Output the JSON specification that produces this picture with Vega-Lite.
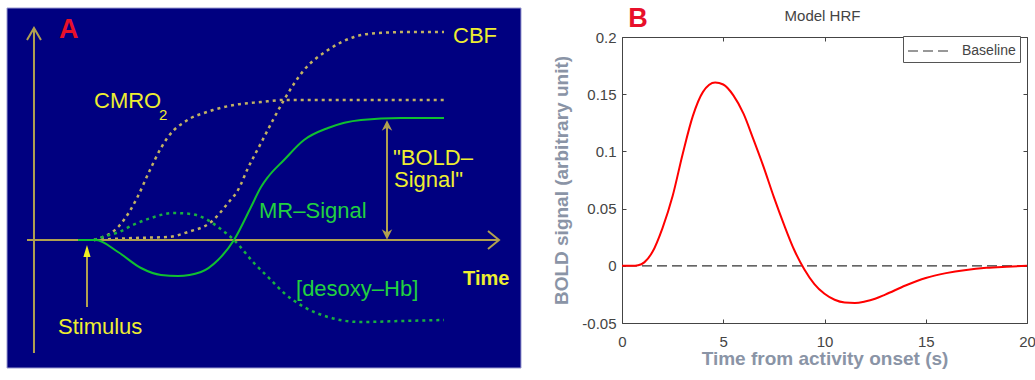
{
  "$schema": "https://vega.github.io/schema/vega-lite/v6.json",
  "padding": {"left": 6, "top": 4, "right": 0, "bottom": 0},
  "background": "white",
  "spacing": 30,
  "config": {
    "font": "Liberation Sans",
    "view": {"stroke": null},
    "axis": {"labelFont": "Liberation Sans", "titleFont": "Liberation Sans"},
    "legend": {"labelFont": "Liberation Sans"}
  },
  "datasets": {
    "panelA": [{"t": 0, "t2": 10, "v": -3.2, "v2": 5.8}],
    "axesA": [
      {"seg": "yaxis", "k": 1, "t": 0.525, "v": -2.825},
      {"seg": "yaxis", "k": 2, "t": 0.525, "v": 5.3},
      {"seg": "ychev", "k": 1, "t": 0.389, "v": 5.0},
      {"seg": "ychev", "k": 2, "t": 0.525, "v": 5.3},
      {"seg": "ychev", "k": 3, "t": 0.661, "v": 5.0},
      {"seg": "xaxis", "k": 1, "t": 0.389, "v": 0},
      {"seg": "xaxis", "k": 2, "t": 9.572, "v": 0},
      {"seg": "xchev", "k": 1, "t": 9.358, "v": 0.225},
      {"seg": "xchev", "k": 2, "t": 9.572, "v": 0},
      {"seg": "xchev", "k": 3, "t": 9.358, "v": -0.225},
      {"seg": "stim", "k": 1, "t": 1.556, "v": -1.675},
      {"seg": "stim", "k": 2, "t": 1.556, "v": -0.35},
      {"seg": "bold", "k": 1, "t": 7.393, "v": 0.1},
      {"seg": "bold", "k": 2, "t": 7.393, "v": 2.95}
    ],
    "headsA": [
      {"h": "stim", "t": 1.556, "v": -0.275},
      {"h": "boldup", "t": 7.393, "v": 2.8625},
      {"h": "bolddown", "t": 7.393, "v": 0.1375}
    ],
    "curvesA": [
      {"s": "CBF", "t": 1.693, "v": 0},
      {"s": "CBF", "t": 2.471, "v": 0.05},
      {"s": "CBF", "t": 3.132, "v": 0.075},
      {"s": "CBF", "t": 3.521, "v": 0.2},
      {"s": "CBF", "t": 3.969, "v": 0.45},
      {"s": "CBF", "t": 4.3, "v": 0.925},
      {"s": "CBF", "t": 4.494, "v": 1.25},
      {"s": "CBF", "t": 4.689, "v": 1.8},
      {"s": "CBF", "t": 4.942, "v": 2.425},
      {"s": "CBF", "t": 5.175, "v": 3.0},
      {"s": "CBF", "t": 5.389, "v": 3.5},
      {"s": "CBF", "t": 5.778, "v": 4.25},
      {"s": "CBF", "t": 6.245, "v": 4.75},
      {"s": "CBF", "t": 6.751, "v": 5.075},
      {"s": "CBF", "t": 7.218, "v": 5.175},
      {"s": "CBF", "t": 7.86, "v": 5.2},
      {"s": "CBF", "t": 8.502, "v": 5.2},
      {"s": "CMRO2", "t": 1.693, "v": 0},
      {"s": "CMRO2", "t": 1.868, "v": 0.075},
      {"s": "CMRO2", "t": 2.023, "v": 0.175},
      {"s": "CMRO2", "t": 2.179, "v": 0.35},
      {"s": "CMRO2", "t": 2.354, "v": 0.65},
      {"s": "CMRO2", "t": 2.549, "v": 1.1},
      {"s": "CMRO2", "t": 2.763, "v": 1.7},
      {"s": "CMRO2", "t": 2.996, "v": 2.3},
      {"s": "CMRO2", "t": 3.132, "v": 2.575},
      {"s": "CMRO2", "t": 3.249, "v": 2.75},
      {"s": "CMRO2", "t": 3.424, "v": 2.925},
      {"s": "CMRO2", "t": 3.58, "v": 3.05},
      {"s": "CMRO2", "t": 3.833, "v": 3.175},
      {"s": "CMRO2", "t": 4.008, "v": 3.25},
      {"s": "CMRO2", "t": 4.416, "v": 3.375},
      {"s": "CMRO2", "t": 4.942, "v": 3.45},
      {"s": "CMRO2", "t": 5.389, "v": 3.5},
      {"s": "CMRO2", "t": 8.502, "v": 3.5},
      {"s": "desoxy", "t": 1.693, "v": 0},
      {"s": "desoxy", "t": 1.926, "v": 0.1},
      {"s": "desoxy", "t": 2.179, "v": 0.2},
      {"s": "desoxy", "t": 2.451, "v": 0.375},
      {"s": "desoxy", "t": 2.802, "v": 0.55},
      {"s": "desoxy", "t": 3.249, "v": 0.675},
      {"s": "desoxy", "t": 3.58, "v": 0.65},
      {"s": "desoxy", "t": 3.872, "v": 0.525},
      {"s": "desoxy", "t": 4.105, "v": 0.325},
      {"s": "desoxy", "t": 4.416, "v": 0},
      {"s": "desoxy", "t": 4.805, "v": -0.575},
      {"s": "desoxy", "t": 5.136, "v": -1.0},
      {"s": "desoxy", "t": 5.389, "v": -1.325},
      {"s": "desoxy", "t": 5.778, "v": -1.675},
      {"s": "desoxy", "t": 6.245, "v": -1.925},
      {"s": "desoxy", "t": 6.887, "v": -2.05},
      {"s": "desoxy", "t": 7.665, "v": -2.025},
      {"s": "desoxy", "t": 8.502, "v": -2.0},
      {"s": "MR", "t": 1.381, "v": 0},
      {"s": "MR", "t": 1.732, "v": 0},
      {"s": "MR", "t": 2.16, "v": -0.3},
      {"s": "MR", "t": 2.607, "v": -0.7},
      {"s": "MR", "t": 2.996, "v": -0.875},
      {"s": "MR", "t": 3.327, "v": -0.9},
      {"s": "MR", "t": 3.774, "v": -0.8},
      {"s": "MR", "t": 4.105, "v": -0.5},
      {"s": "MR", "t": 4.416, "v": 0},
      {"s": "MR", "t": 4.747, "v": 0.825},
      {"s": "MR", "t": 4.942, "v": 1.325},
      {"s": "MR", "t": 5.078, "v": 1.575},
      {"s": "MR", "t": 5.389, "v": 2.0},
      {"s": "MR", "t": 5.778, "v": 2.5},
      {"s": "MR", "t": 6.245, "v": 2.8},
      {"s": "MR", "t": 6.887, "v": 3.0},
      {"s": "MR", "t": 7.665, "v": 3.05},
      {"s": "MR", "t": 8.502, "v": 3.05}
    ],
    "textA": [
      {"g": "red", "txt": "A", "t": 1.012, "v": 5.05},
      {"g": "yellow", "txt": "CBF", "t": 8.677, "v": 4.9375},
      {"g": "yellow", "txt": "CMRO", "t": 1.693, "v": 3.29},
      {"g": "sub", "txt": "2", "t": 2.957, "v": 3.0},
      {"g": "yellow", "txt": "\"BOLD–", "t": 7.51, "v": 1.875},
      {"g": "yellow", "txt": "Signal\"", "t": 7.529, "v": 1.325},
      {"g": "yellow", "txt": "Stimulus", "t": 0.992, "v": -2.35},
      {"g": "time", "txt": "Time", "t": 8.872, "v": -1.125},
      {"g": "green", "txt": "MR–Signal", "t": 4.903, "v": 0.5425},
      {"g": "green", "txt": "[desoxy–Hb]", "t": 5.623, "v": -1.4}
    ],
    "hrf": [
      {"t": 0, "v": 0},
      {"t": 0.5, "v": 0},
      {"t": 0.8, "v": 0.0005},
      {"t": 1.1, "v": 0.003},
      {"t": 1.5, "v": 0.012},
      {"t": 2.0, "v": 0.033},
      {"t": 2.5, "v": 0.061},
      {"t": 3.0, "v": 0.098},
      {"t": 3.5, "v": 0.131},
      {"t": 4.0, "v": 0.152},
      {"t": 4.6, "v": 0.1602},
      {"t": 5.0, "v": 0.1585},
      {"t": 5.5, "v": 0.149},
      {"t": 6.0, "v": 0.133},
      {"t": 6.5, "v": 0.11},
      {"t": 7.0, "v": 0.086},
      {"t": 7.5, "v": 0.06},
      {"t": 8.0, "v": 0.036},
      {"t": 8.5, "v": 0.014},
      {"t": 9.0, "v": -0.003},
      {"t": 9.5, "v": -0.016},
      {"t": 10.0, "v": -0.0245},
      {"t": 10.5, "v": -0.0297},
      {"t": 11.0, "v": -0.0321},
      {"t": 11.5, "v": -0.0325},
      {"t": 12.0, "v": -0.0312},
      {"t": 12.5, "v": -0.0288},
      {"t": 13.0, "v": -0.0252},
      {"t": 14.0, "v": -0.0172},
      {"t": 15.0, "v": -0.0106},
      {"t": 16.0, "v": -0.0064},
      {"t": 17.0, "v": -0.0036},
      {"t": 18.0, "v": -0.0018},
      {"t": 19.0, "v": -0.0008},
      {"t": 20.0, "v": 0}
    ],
    "baseline": [{"name": "Baseline"}],
    "labelB": [{"txt": "B", "t": 0.79, "v": 0.2087}],
    "titleB": [{"txt": "Model HRF", "t": 9.9, "v": 0.214}]
  },
  "resolve": {"scale": {"x": "independent", "y": "independent", "strokeDash": "independent"}, "legend": {"strokeDash": "independent"}},
  "hconcat": [
    {
      "width": 514,
      "height": 331,
      "encoding": {
        "x": {"field": "t", "type": "quantitative", "scale": {"domain": [0, 10], "nice": false, "zero": false}, "axis": null},
        "y": {"field": "v", "type": "quantitative", "scale": {"domain": [-3.2, 5.075], "nice": false, "zero": false}, "axis": null}
      },
      "layer": [
        {
          "data": {"name": "panelA"},
          "mark": {"type": "rect", "fill": "#000080", "stroke": "#9a9ad0", "strokeWidth": 1},
          "encoding": {"x2": {"field": "t2"}, "y2": {"field": "v2"}}
        },
        {
          "data": {"name": "curvesA"},
          "transform": [{"filter": "datum.s === 'CBF'"}],
          "mark": {"type": "line", "stroke": "#c2b262", "strokeWidth": 2.5, "strokeDash": [3, 4], "interpolate": "monotone"},
          "encoding": {}
        },
        {
          "data": {"name": "curvesA"},
          "transform": [{"filter": "datum.s === 'CMRO2'"}],
          "mark": {"type": "line", "stroke": "#c2b262", "strokeWidth": 2.5, "strokeDash": [3, 4], "interpolate": "monotone"},
          "encoding": {}
        },
        {
          "data": {"name": "curvesA"},
          "transform": [{"filter": "datum.s === 'desoxy'"}],
          "mark": {"type": "line", "stroke": "#18b040", "strokeWidth": 2.5, "strokeDash": [3, 4], "interpolate": "monotone"},
          "encoding": {}
        },
        {
          "data": {"name": "axesA"},
          "mark": {"type": "line", "stroke": "#b0a050", "strokeWidth": 2},
          "encoding": {"detail": {"field": "seg"}, "order": {"field": "k"}}
        },
        {
          "data": {"name": "curvesA"},
          "transform": [{"filter": "datum.s === 'MR'"}],
          "mark": {"type": "line", "stroke": "#10c030", "strokeWidth": 2, "interpolate": "monotone"},
          "encoding": {}
        },
        {
          "data": {"name": "headsA"},
          "transform": [{"filter": "datum.h === 'stim'"}],
          "mark": {"type": "point", "shape": "M0,-1L0.6,1L-0.6,1Z", "size": 144, "filled": true, "fill": "#f0f020", "opacity": 1, "strokeWidth": 0}
        },
        {
          "data": {"name": "headsA"},
          "transform": [{"filter": "datum.h === 'boldup'"}],
          "mark": {"type": "point", "shape": "M0,-1L1,1L0,0.4L-1,1Z", "size": 110, "filled": true, "fill": "#b0a050", "opacity": 1, "strokeWidth": 0}
        },
        {
          "data": {"name": "headsA"},
          "transform": [{"filter": "datum.h === 'bolddown'"}],
          "mark": {"type": "point", "shape": "M0,1L1,-1L0,-0.4L-1,-1Z", "size": 110, "filled": true, "fill": "#b0a050", "opacity": 1, "strokeWidth": 0}
        },
        {
          "data": {"name": "textA"},
          "transform": [{"filter": "datum.g === 'yellow'"}],
          "mark": {"type": "text", "align": "left", "baseline": "alphabetic", "fontSize": 22, "color": "#eeee30"},
          "encoding": {"text": {"field": "txt"}}
        },
        {
          "data": {"name": "textA"},
          "transform": [{"filter": "datum.g === 'sub'"}],
          "mark": {"type": "text", "align": "left", "baseline": "alphabetic", "fontSize": 15, "color": "#eeee30"},
          "encoding": {"text": {"field": "txt"}}
        },
        {
          "data": {"name": "textA"},
          "transform": [{"filter": "datum.g === 'time'"}],
          "mark": {"type": "text", "align": "left", "baseline": "alphabetic", "fontSize": 20, "fontWeight": "bold", "color": "#eeee30"},
          "encoding": {"text": {"field": "txt"}}
        },
        {
          "data": {"name": "textA"},
          "transform": [{"filter": "datum.g === 'green'"}],
          "mark": {"type": "text", "align": "left", "baseline": "alphabetic", "fontSize": 22, "color": "#22d040"},
          "encoding": {"text": {"field": "txt"}}
        },
        {
          "data": {"name": "textA"},
          "transform": [{"filter": "datum.g === 'red'"}],
          "mark": {"type": "text", "align": "left", "baseline": "alphabetic", "fontSize": 27, "fontWeight": "bold", "color": "#e8102a"},
          "encoding": {"text": {"field": "txt"}}
        }
      ]
    },
    {
      "width": 405,
      "height": 286,
      "view": {"stroke": "#444444", "strokeWidth": 1, "fill": "white"},
      "resolve": {"axis": {"x": "independent", "y": "independent"}},
      "layer": [
        {
          "data": {"name": "hrf"},
          "mark": {"type": "point", "opacity": 0},
          "encoding": {
            "x": {"field": "t", "type": "quantitative", "scale": {"domain": [0, 20], "nice": false, "zero": false},
                  "axis": {"orient": "top", "labels": false, "title": null, "domain": false, "grid": false, "tickSize": -4, "tickColor": "#444444", "values": [0, 5, 10, 15, 20]}},
            "y": {"field": "v", "type": "quantitative", "scale": {"domain": [-0.05, 0.2], "nice": false, "zero": false},
                  "axis": {"orient": "right", "labels": false, "title": null, "domain": false, "grid": false, "tickSize": -4, "tickColor": "#444444", "values": [-0.05, 0, 0.05, 0.1, 0.15, 0.2]}}
          }
        },
        {
          "data": {"name": "baseline"},
          "mark": {"type": "rule", "color": "#333333", "strokeWidth": 1.2},
          "encoding": {
            "y": {"datum": 0, "type": "quantitative", "scale": {"domain": [-0.05, 0.2], "nice": false, "zero": false}, "axis": null},
            "strokeDash": {"field": "name", "type": "nominal", "scale": {"domain": ["Baseline"], "range": [[10, 5]]},
              "legend": {"title": null, "orient": "none", "legendX": 281, "legendY": -1, "strokeColor": "#555555", "fillColor": "white", "padding": 4,
                         "labelFontSize": 14, "labelColor": "#444444", "symbolType": "M-2,0L2,0", "symbolSize": 400, "symbolOffset": 10,
                         "symbolStrokeWidth": 1.2, "symbolStrokeColor": "#333333", "symbolFillColor": "transparent", "labelOffset": 23}}
          }
        },
        {
          "data": {"name": "hrf"},
          "mark": {"type": "line", "color": "#ff0000", "strokeWidth": 2, "interpolate": "monotone"},
          "encoding": {
            "x": {"field": "t", "type": "quantitative", "scale": {"domain": [0, 20], "nice": false, "zero": false},
                  "axis": {"orient": "bottom", "values": [0, 5, 10, 15, 20], "title": "Time from activity onset (s)",
                           "titleFontSize": 19, "titleFontWeight": "bold", "titleColor": "#8a94a6", "titlePadding": 0,
                           "labelFontSize": 15, "labelColor": "#444444", "labelPadding": 15, "labelFlush": false,
                           "tickSize": -4, "tickColor": "#444444", "domain": false, "grid": false}},
            "y": {"field": "v", "type": "quantitative", "scale": {"domain": [-0.05, 0.2], "nice": false, "zero": false},
                  "axis": {"orient": "left", "values": [-0.05, 0, 0.05, 0.1, 0.15, 0.2], "format": "~g",
                           "labelExpr": "replace(datum.label, '\u2212', '-')",
                           "title": "BOLD signal (arbitrary unit)", "titleFontSize": 19, "titleFontWeight": "bold",
                           "titleColor": "#8a94a6", "titlePadding": 10,
                           "labelFontSize": 15, "labelColor": "#444444", "labelPadding": 10,
                           "tickSize": -4, "tickColor": "#444444", "domain": false, "grid": false}}
          }
        },
        {
          "data": {"name": "labelB"},
          "mark": {"type": "text", "fontSize": 27, "fontWeight": "bold", "color": "#e8102a", "align": "center", "baseline": "alphabetic"},
          "encoding": {
            "x": {"field": "t", "type": "quantitative", "scale": {"domain": [0, 20], "nice": false, "zero": false}, "axis": null},
            "y": {"field": "v", "type": "quantitative", "scale": {"domain": [-0.05, 0.2], "nice": false, "zero": false}, "axis": null},
            "text": {"field": "txt"}
          }
        },
        {
          "data": {"name": "titleB"},
          "mark": {"type": "text", "fontSize": 15, "color": "#444444", "align": "center", "baseline": "alphabetic"},
          "encoding": {
            "x": {"field": "t", "type": "quantitative", "scale": {"domain": [0, 20], "nice": false, "zero": false}, "axis": null},
            "y": {"field": "v", "type": "quantitative", "scale": {"domain": [-0.05, 0.2], "nice": false, "zero": false}, "axis": null},
            "text": {"field": "txt"}
          }
        }
      ]
    }
  ]
}
